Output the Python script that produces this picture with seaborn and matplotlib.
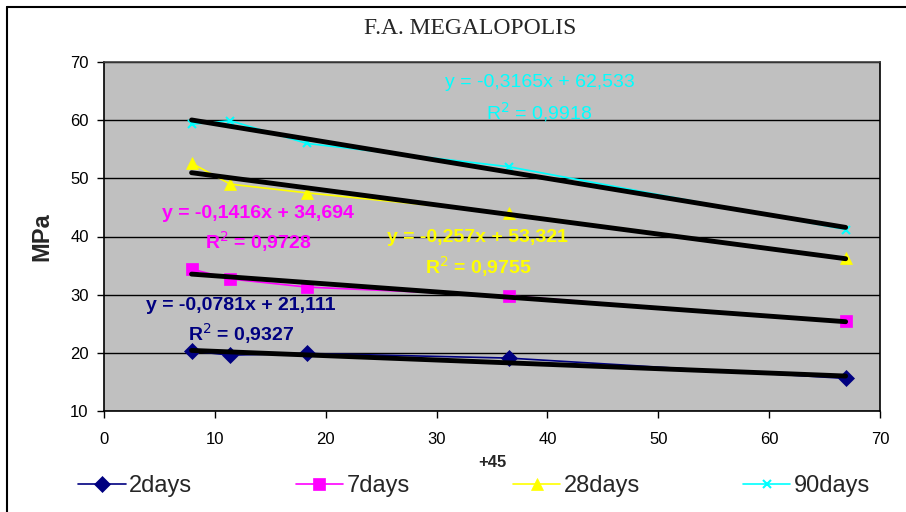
import numpy as np
import pandas as pd
import matplotlib
matplotlib.use("Agg")
import matplotlib.pyplot as plt
from matplotlib.lines import Line2D
import seaborn as sns

x_vals = [7.9, 11.4, 18.3, 36.5, 66.9]
days2 = [20.3, 19.6, 19.9, 19.1, 15.6]
days7 = [34.4, 32.7, 31.3, 29.8, 25.4]
days28 = [52.6, 49.0, 47.5, 44.0, 36.3]
days90 = [59.3, 59.9, 56.0, 52.0, 41.2]
series_names = ["2days", "7days", "28days", "90days"]
colors = ["#000080", "#FF00FF", "#FFFF00", "#00FFFF"]
markers = ["D", "s", "^", "x"]
equations = ["y = -0,0781x + 21,111", "y = -0,1416x + 34,694",
             "y = -0,257x + 53,321", "y = -0,3165x + 62,533"]
r2_values = ["0,9327", "0,9728", "0,9755", "0,9918"]
eq_pos = [(12.3, 28.2), (13.9, 44.0), (33.7, 39.9), (39.3, 66.4)]
r2_pos = [(12.4, 23.3), (13.9, 39.1), (33.8, 34.8), (39.3, 61.4)]
eq_bold = [True, True, True, False]

df = pd.DataFrame({
    "x": x_vals * 4,
    "y": days2 + days7 + days28 + days90,
    "series": sum([[n] * len(x_vals) for n in series_names], []),
})

sns.set_style("white")
plt.rcParams["font.family"] = ["Liberation Sans", "DejaVu Sans"]

fig = plt.figure(figsize=(9.06, 5.12), dpi=100)
ax = fig.add_axes([104 / 906, 1 - 411 / 512, (880 - 104) / 906, (411 - 62) / 512])
ax.set_facecolor("#C0C0C0")

for name, c, m in zip(series_names, colors, markers):
    sub = df[df["series"] == name]
    ms = 8 if m != "x" else 6
    sns.lineplot(data=sub, x="x", y="y", color=c, marker=m, markersize=ms,
                 markeredgecolor=c, markeredgewidth=1.5 if m == "x" else 0.5,
                 linewidth=1.2, ax=ax, label=name, legend=False, zorder=3)
for name in series_names:
    sub = df[df["series"] == name]
    sns.regplot(data=sub, x="x", y="y", scatter=False, ci=None, truncate=True,
                color="black", line_kws={"linewidth": 3.5, "zorder": 4}, ax=ax)

for i in range(4):
    w = "bold" if eq_bold[i] else "normal"
    ax.text(*eq_pos[i], equations[i], color=colors[i], fontsize=14, fontweight=w,
            ha="center", va="center", zorder=5)
    ax.text(*r2_pos[i], "R$^2$ = " + r2_values[i], color=colors[i], fontsize=14,
            fontweight=w, ha="center", va="center", zorder=5)

ax.set_xlim(0, 70)
ax.set_ylim(10, 70)
ax.set_xticks(range(0, 71, 10))
ax.set_yticks(range(10, 71, 10))
ax.grid(axis="y", color="black", linewidth=1)
ax.set_axisbelow(True)
ax.tick_params(axis="both", direction="out", length=5, width=1, labelsize=12,
               colors="black", bottom=True, left=True)
ax.tick_params(axis="x", pad=10)
ax.tick_params(axis="y", pad=6)
for s in ["left", "bottom", "right"]:
    ax.spines[s].set_color("black")
    ax.spines[s].set_linewidth(1.2)
ax.spines["top"].set_color("#404040")
ax.spines["top"].set_linewidth(1.2)
ax.set_xlabel("+45", fontsize=12, fontweight="bold", labelpad=6)
ax.set_ylabel("MPa", fontsize=17, fontweight="bold", labelpad=12)

fig.text(470 / 906, 1 - 29 / 512, "F.A. MEGALOPOLIS", ha="center", va="center",
         fontsize=17, family=["Liberation Serif", "DejaVu Serif"])

handles, labels = ax.get_legend_handles_labels()
fig.legend(handles, labels, loc="lower left", bbox_to_anchor=(0.076, 0.01, 0.895, 0.07),
           mode="expand", ncol=4, frameon=False, fontsize=17, handlelength=2.0,
           handletextpad=0.15, borderaxespad=0)

fig.add_artist(Line2D([7 / 906, 7 / 906], [0, 1 - 7 / 512], transform=fig.transFigure,
                      color="black", linewidth=1.5))
fig.add_artist(Line2D([7 / 906, 1], [1 - 7 / 512, 1 - 7 / 512], transform=fig.transFigure,
                      color="black", linewidth=1.5))
fig.savefig("out.png", dpi=100)
